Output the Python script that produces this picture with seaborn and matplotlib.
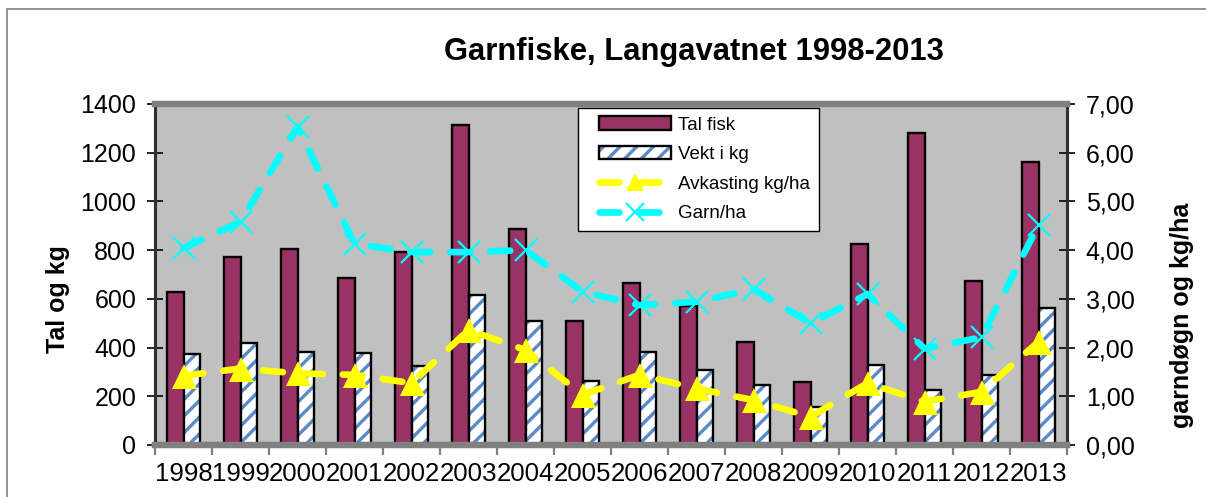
import numpy as np
import pandas as pd
import matplotlib
matplotlib.use("Agg")
import matplotlib.pyplot as plt
import matplotlib.colors as mcolors
from matplotlib.patches import Rectangle
from matplotlib.lines import Line2D
from matplotlib.legend_handler import HandlerPatch, HandlerLine2D
from matplotlib.ticker import FuncFormatter, MultipleLocator
import seaborn as sns

# ---- data ----
years = ['1998', '1999', '2000', '2001', '2002', '2003', '2004', '2005',
         '2006', '2007', '2008', '2009', '2010', '2011', '2012', '2013']
tal_fisk = [629, 773, 803, 684, 791, 1314, 885, 509, 664, 572, 424, 260, 824, 1279, 675, 1163]
vekt_kg = [372, 417, 380, 376, 324, 616, 510, 263, 380, 308, 246, 155, 328, 226, 287, 561]
avkasting = [1.42, 1.57, 1.47, 1.44, 1.27, 2.36, 1.95, 1.03, 1.44, 1.16, 0.92, 0.58, 1.27, 0.89, 1.09, 2.12]
garn_ha = [4.04, 4.58, 6.53, 4.13, 3.96, 3.96, 4.00, 3.15, 2.87, 2.94, 3.20, 2.50, 3.10, 1.98, 2.21, 4.52]

title = 'Garnfiske, Langavatnet 1998-2013'
left_label = 'Tal og kg'
right_label = 'garndøgn og kg/ha'
bar_series = ['Tal fisk', 'Vekt i kg']
line_series = ['Avkasting kg/ha', 'Garn/ha']

MAROON = '#993366'
HATCH_BLUE = '#5B8AC8'
YELLOW = '#FFFF00'
CYAN = '#00FFFF'
PLOT_BG = '#C0C0C0'
FRAME = '#808080'

plt.rcParams['font.family'] = ['Liberation Sans', 'DejaVu Sans']
plt.rcParams['hatch.linewidth'] = 2.4

df_bars = pd.DataFrame({
    'year': years * 2,
    'value': tal_fisk + vekt_kg,
    'series': [bar_series[0]] * len(years) + [bar_series[1]] * len(years),
})
df_lines = pd.DataFrame({'year': years, 'avkasting': avkasting, 'garn': garn_ha})

fig = plt.figure(figsize=(12.06, 4.97), dpi=100)
fig.patch.set_facecolor('white')
ax = fig.add_axes([155 / 1206, 1 - 445 / 497, (1067 - 155) / 1206, (445 - 104) / 497])
ax.set_facecolor(PLOT_BG)

sns.barplot(data=df_bars, x='year', y='value', hue='series', order=years,
            hue_order=bar_series, palette={bar_series[0]: MAROON, bar_series[1]: 'white'},
            width=0.58, gap=0, edgecolor='black', linewidth=1.7, saturation=1,
            legend=False, ax=ax)

bar_tal = ax.containers[0]
bar_vekt = ax.containers[1]
for p in bar_vekt.patches:
    p.set_hatch('//')
    if hasattr(p, 'set_hatchcolor'):
        p.set_hatchcolor(HATCH_BLUE)
    else:
        p._hatch_color = mcolors.to_rgba(HATCH_BLUE)
    p.stale = True

ax.set_ylim(0, 1400)
ax.yaxis.set_major_locator(MultipleLocator(200))
ax.set_xlim(-0.5, len(years) - 0.5)
ax.set_xlabel('')
ax.set_ylabel('')

ax2 = ax.twinx()
sns.pointplot(data=df_lines, x='year', y='garn', order=years, ax=ax2, color=CYAN,
              markers='x', linestyles='-', errorbar=None, markersize=16,
              markeredgewidth=1.6, linewidth=4.8)
sns.pointplot(data=df_lines, x='year', y='avkasting', order=years, ax=ax2, color=YELLOW,
              markers='^', linestyles='-', errorbar=None, markersize=18,
              markeredgewidth=0, linewidth=4.8)
ln_garn, ln_avk = ax2.lines[0], ax2.lines[1]
for ln in (ln_garn, ln_avk):
    ln.set_dashes([3.0, 3.0])
    ln.set_dash_capstyle('round')

ax2.set_ylim(0, 7)
ax2.yaxis.set_major_locator(MultipleLocator(1))
ax2.yaxis.set_major_formatter(FuncFormatter(lambda v, _: f'{v:.2f}'.replace('.', ',')))
ax2.set_xlim(-0.5, len(years) - 0.5)
ax2.set_xlabel('')
ax2.set_ylabel('')

# spines / ticks
for a in (ax, ax2):
    for s in ('top', 'bottom'):
        a.spines[s].set_color(FRAME)
        a.spines[s].set_linewidth(4.5)
    for s in ('left', 'right'):
        a.spines[s].set_color('#303030')
        a.spines[s].set_linewidth(2.2)

ax.tick_params(axis='y', direction='inout', length=11, width=1.2, color='black',
               labelsize=18, pad=8)
ax2.tick_params(axis='y', direction='inout', length=11, width=1.2, color='black',
                labelsize=18, pad=8)
ax.set_xticks(range(len(years)))
ax.set_xticklabels(years)
ax.tick_params(axis='x', which='major', length=0, labelsize=18.6, pad=12)
ax.set_xticks(np.arange(-0.5, len(years), 1), minor=True)
ax.tick_params(axis='x', which='minor', direction='out', length=7, width=1.6, color=FRAME)
ax2.tick_params(axis='x', which='both', length=0, labelbottom=False)

# texts
fig.text(694 / 1206, 1 - 60 / 497, title, ha='center', va='baseline',
         fontsize=22.3, fontweight='bold')
fig.text(58 / 1206, 1 - 299 / 497, left_label, ha='center', va='center',
         rotation=90, fontsize=18, fontweight='bold')
fig.text(1182 / 1206, 1 - 315 / 497, right_label, ha='center', va='center',
         rotation=90, fontsize=18, fontweight='bold')

# legend
leg_fs = 13.5
xpad = 0.65
h_tal = bar_tal.patches[0]
h_vekt = bar_vekt.patches[0]
leg = fig.legend(handles=[h_tal, h_vekt, ln_avk, ln_garn],
                 labels=bar_series + line_series,
                 handler_map={Rectangle: HandlerPatch(xpad=xpad),
                              Line2D: HandlerLine2D(xpad=xpad)},
                 loc='upper left', bbox_to_anchor=(578 / 1206, 1 - 108 / 497),
                 bbox_transform=fig.transFigure, fontsize=leg_fs, frameon=True,
                 fancybox=False, shadow=False, framealpha=1, edgecolor='black',
                 borderpad=0.45, labelspacing=0.66, handlelength=4.5,
                 handletextpad=0.4, borderaxespad=0, numpoints=1)
leg.get_frame().set_linewidth(1.0)
for lh in leg.get_lines():
    lh.set_markersize(13)

# outer chart border
fig.patches.append(Rectangle((7 / 1206, -0.1), 1.2, 1 - 9 / 497 + 0.1, fill=False,
                             edgecolor=FRAME, linewidth=1.2, transform=fig.transFigure,
                             figure=fig))

fig.savefig('out.png', dpi=100)
